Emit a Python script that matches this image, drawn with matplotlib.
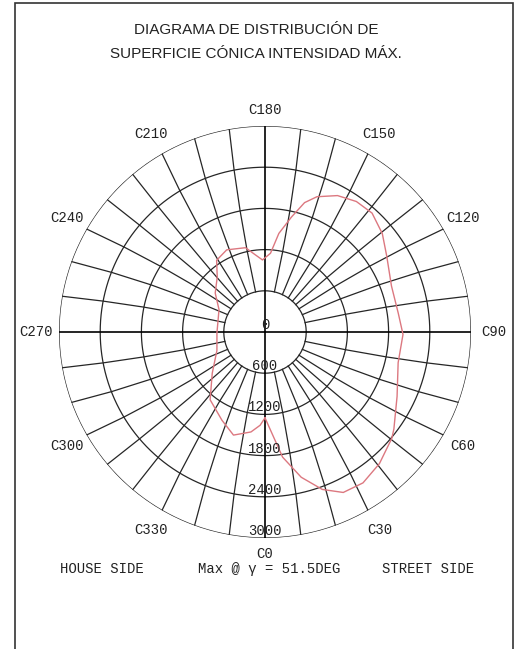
import numpy as np
import matplotlib
matplotlib.use("Agg")
import matplotlib.pyplot as plt
from matplotlib.patches import Rectangle

# C-plane angle (deg) and intensity on the cone surface (cd)
c_angles = [0, 8, 14, 20, 26, 33, 41, 50, 53, 64, 77, 89, 98, 110, 122, 130,
            138, 145, 152, 159, 163, 167, 172, 176, 182, 187, 193, 205, 214,
            221, 232, 244, 271, 291, 308, 321, 334, 343, 352, 357, 360]
intensity = [1250, 1840, 2180, 2440, 2600, 2620, 2540, 2410, 2350, 2140, 1990,
             2010, 1960, 1960, 2090, 2230, 2330, 2320, 2250, 2110, 1970, 1720,
             1450, 1150, 1050, 1130, 1260, 1320, 1260, 1060, 920, 745, 700,
             750, 975, 1270, 1430, 1570, 1470, 1360, 1250]

ring_values = [600, 1200, 1800, 2400, 3000]
ring_labels = ["0", "600", "1200", "1800", "2400", "3000"]
c_labels = [0, 30, 60, 90, 120, 150, 180, 210, 240, 270, 300, 330]

title_lines = ["DIAGRAMA DE DISTRIBUCIÓN DE", "SUPERFICIE CÓNICA INTENSIDAD MÁX."]

W, H = 515, 649
fig = plt.figure(figsize=(W / 100, H / 100), dpi=100)
fig.patch.set_facecolor("white")

# page border
fig.add_artist(Rectangle((15 / W, -0.05), (513 - 15) / W, 1.05 - 3 / H,
                         transform=fig.transFigure, fill=False,
                         edgecolor="#333333", linewidth=1.2))

for i, line in enumerate(title_lines):
    fig.text(0.497, 1 - (30 + i * 24) / H, line, ha="center", va="center",
             fontsize=11, family="Liberation Sans", color="#222222")

# polar area: center (265, 332) px, radius 206 px for 3000 cd
cx, cy, rad = 265, 332, 206
ax = fig.add_axes([(cx - rad) / W, (H - cy - rad) / H, 2 * rad / W, 2 * rad / H],
                  projection="polar")
ax.set_theta_zero_location("S")
ax.set_theta_direction(1)
ax.set_ylim(0, 3000)
ax.grid(False)
ax.set_xticks([])
ax.set_yticks([])
ax.spines["polar"].set_visible(False)
ax.patch.set_alpha(0)

grid_kw = dict(color="#262626", linewidth=0.9)
th = np.linspace(0, 2 * np.pi, 361)
for r in ring_values:
    ax.plot(th, np.full_like(th, r), **grid_kw)

# spokes every 10 deg; they fan away from the main axes toward the inner ring
rr = np.array(ring_values, dtype=float)
for a in range(0, 360, 10):
    if a % 90 == 0:
        continue
    bend = 5.0 * np.sin(np.deg2rad(4 * a)) * (rr[-1] - rr) / (rr[-1] - rr[0])
    ax.plot(np.deg2rad(a + bend), rr, **grid_kw)

for a in (0, 90, 180, 270):
    ax.plot([np.deg2rad(a)] * 2, [0, 3000], color="black", linewidth=1.2)

ax.plot(np.deg2rad(c_angles), intensity, color="#dc7880", linewidth=1.0)

mono = "Liberation Mono"
for c in c_labels:
    r = 3230 if c in (0, 180) else 3330
    ax.text(np.deg2rad(c), r, f"C{c}", ha="center", va="center",
            fontsize=10, family=mono, color="#222222", clip_on=False)

for val, lab in zip([0] + ring_values, ring_labels):
    ax.text(0, val, lab, ha="center", va="bottom", fontsize=10,
            family=mono, color="#222222")

fig.text(60 / W, 1 - 569 / H, "HOUSE SIDE", ha="left", va="center",
         fontsize=10, family=mono, color="#222222")
fig.text(198 / W, 1 - 569 / H, "Max @ γ = 51.5DEG", ha="left", va="center",
         fontsize=10, family=mono, color="#222222")
fig.text(474 / W, 1 - 569 / H, "STREET SIDE", ha="right", va="center",
         fontsize=10, family=mono, color="#222222")

fig.savefig("out.png", dpi=100)
